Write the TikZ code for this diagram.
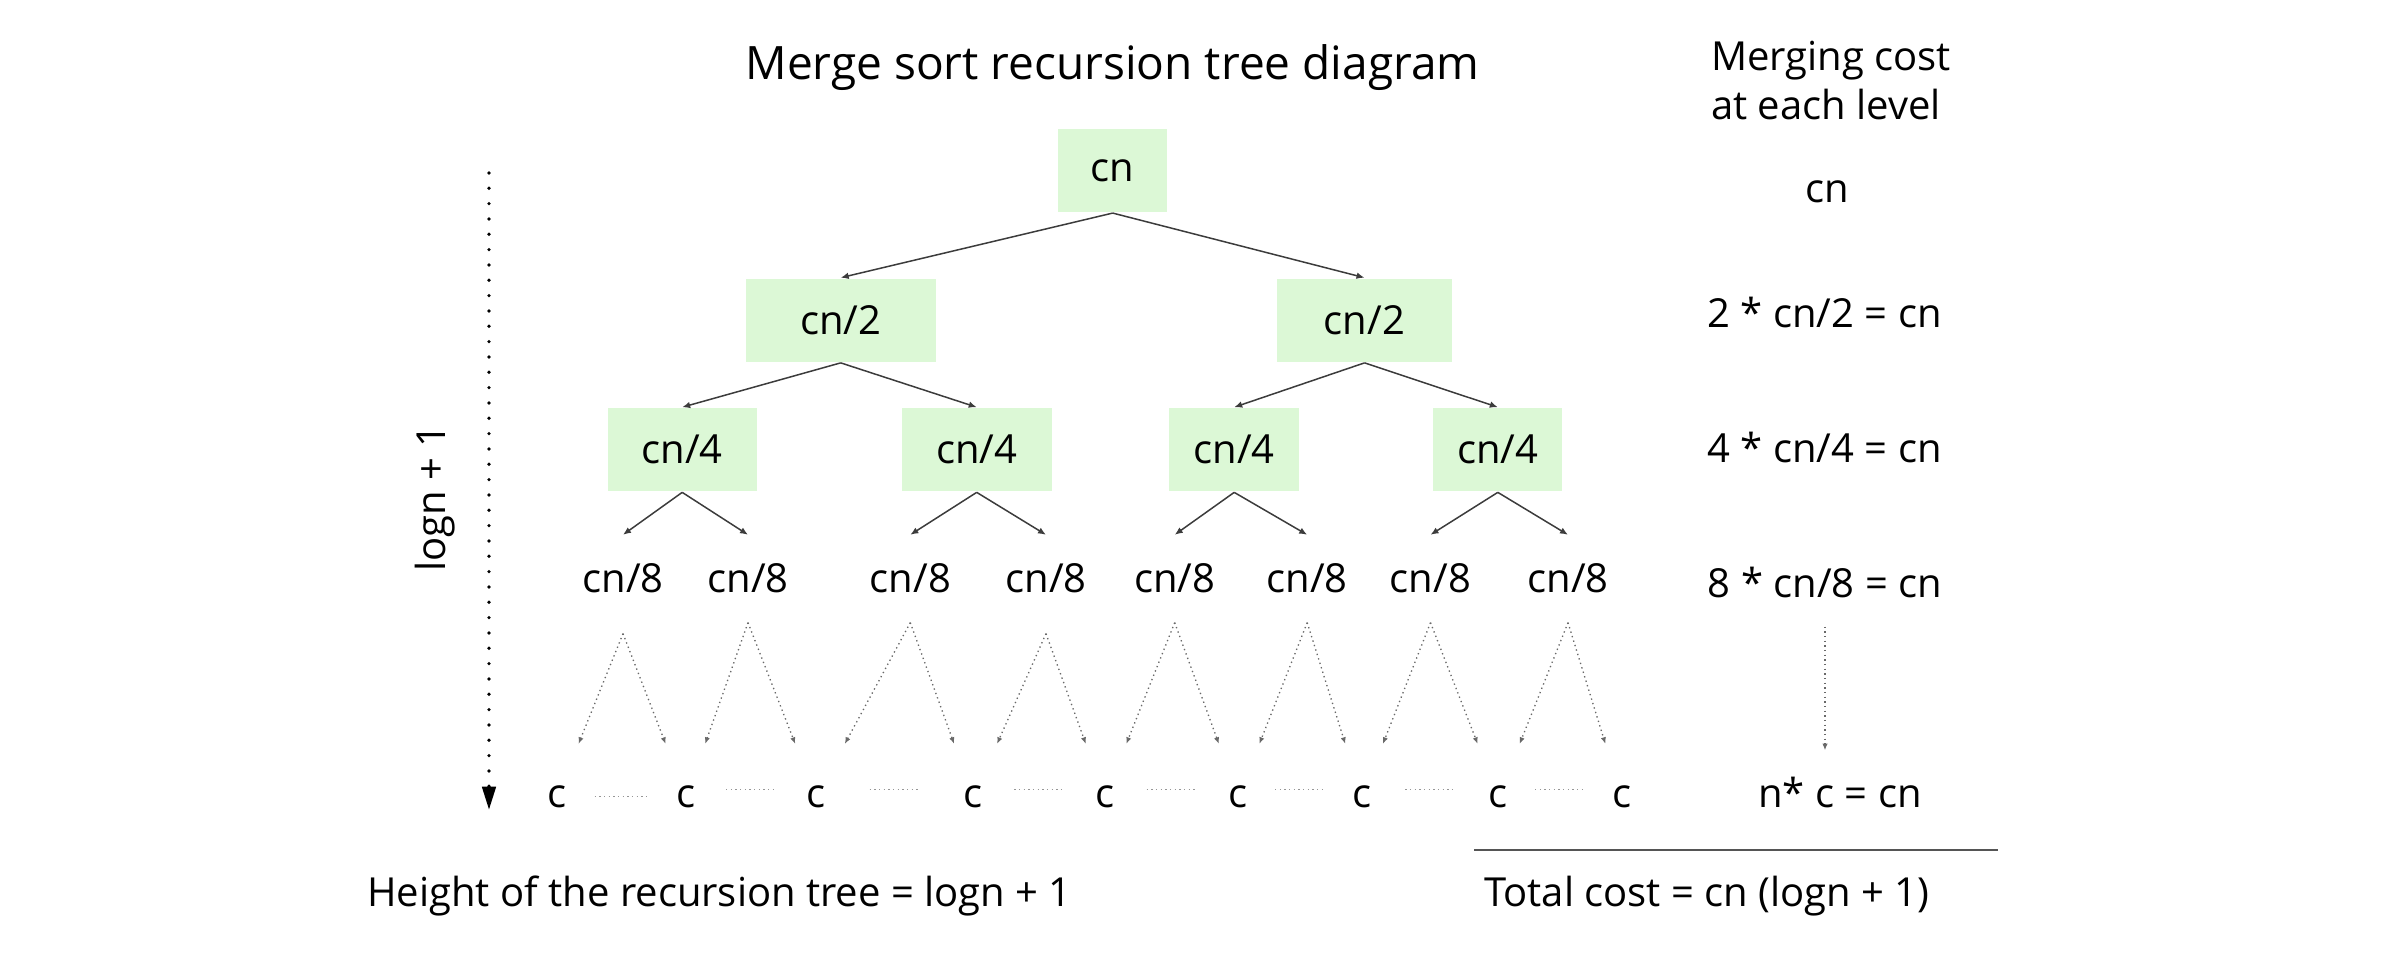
\documentclass[tikz,border=0pt]{standalone}
\usepackage{fontspec}
\setmainfont{Open Sans}
\usetikzlibrary{arrows.meta,calc}

\definecolor{boxgreen}{RGB}{220,248,214}
\definecolor{arrowgray}{RGB}{60,60,60}
\definecolor{dotgray}{RGB}{105,105,105}
\definecolor{sepgray}{RGB}{150,150,150}
\definecolor{rulegray}{RGB}{85,85,85}

\tikzset{every picture/.style={line width=0.75pt}}
\tikzset{
  lbl/.style={inner sep=0pt, anchor=base, font=\fontsize{12}{14.8}\selectfont},
  cbox/.style={fill=boxgreen, inner sep=0pt, minimum height=24.8pt, font=\fontsize{12}{14.8}\selectfont},
  leaf/.style={inner xsep=0pt, inner ysep=8.4pt, anchor=base, font=\fontsize{12}{14.8}\selectfont},
  unit/.style={inner sep=12.3pt, anchor=base, font=\fontsize{12}{14.8}\selectfont},
  tree/.style={draw=arrowgray, line width=0.45pt, -{Latex[length=2.4pt,width=2pt]}},
  dotarr/.style={draw=dotgray, line width=0.4pt, densely dotted, -{Latex[length=2pt,width=1.6pt]}},
  sepline/.style={draw=sepgray, line width=0.4pt, densely dotted},
  heightline/.style={line width=1.1pt, line cap=round, dash pattern=on 0pt off 4.6pt, -{Triangle[length=7pt,width=4pt]}}
}

\begin{document}
\begin{tikzpicture}[x=0.3pt,y=0.3pt,yscale=-1,xscale=1]
\useasboundingbox (0,0) rectangle (2400,954);

% Title
\node [lbl, font=\fontsize{13.8}{16}\selectfont] (title) at (1112.5,80) {Merge sort recursion tree diagram};

%Shape: Rectangle [root]
\node [cbox, minimum width=32.8pt] (root) at (1112.7,170.5) {cn};
%Shape: Rectangle [level 2]
\node [cbox, minimum width=57pt] (l2a) at (840.7,320.3) {cn/2};
\node [cbox, minimum width=52.3pt] (l2b) at (1364.5,320.3) {cn/2};
%Shape: Rectangle [level 4]
\node [cbox, minimum width=44.7pt] (l4a) at (682.2,449.8) {cn/4};
\node [cbox, minimum width=45pt] (l4b) at (976.7,449.8) {cn/4};
\node [cbox, minimum width=39pt] (l4c) at (1234.2,449.8) {cn/4};
\node [cbox, minimum width=38.7pt] (l4d) at (1497.8,449.8) {cn/4};

% Text Node [level 8]
\node [leaf] (e1) at (623,593) {cn/8};
\node [leaf] (e2) at (748,593) {cn/8};
\node [leaf] (e3) at (910.3,593) {cn/8};
\node [leaf] (e4) at (1046,593) {cn/8};
\node [leaf] (e5) at (1174.7,593) {cn/8};
\node [leaf] (e6) at (1307.2,593) {cn/8};
\node [leaf] (e7) at (1430.5,593) {cn/8};
\node [leaf] (e8) at (1568,593) {cn/8};

% Text Node [leaves]
\node [unit] (c1) at (557,808) {c};
\node [unit] (c2) at (686.3,808) {c};
\node [unit] (c3) at (816,808) {c};
\node [unit] (c4) at (973.4,808) {c};
\node [unit] (c5) at (1105,808) {c};
\node [unit] (c6) at (1238.3,808) {c};
\node [unit] (c7) at (1362,808) {c};
\node [unit] (c8) at (1498.4,808) {c};
\node [unit] (c9) at (1621.8,808) {c};

%Straight Lines [tree arrows]
\draw [tree] (root.south) -- (l2a.north);
\draw [tree] (root.south) -- (l2b.north);
\draw [tree] (l2a.south) -- (l4a.north);
\draw [tree] (l2a.south) -- (l4b.north);
\draw [tree] (l2b.south) -- (l4c.north);
\draw [tree] (l2b.south) -- (l4d.north);
\draw [tree] (l4a.south) -- (e1.north);
\draw [tree] (l4a.south) -- (e2.north);
\draw [tree] (l4b.south) -- (e3.north);
\draw [tree] (l4b.south) -- (e4.north);
\draw [tree] (l4c.south) -- (e5.north);
\draw [tree] (l4c.south) -- (e6.north);
\draw [tree] (l4d.south) -- (e7.north);
\draw [tree] (l4d.south) -- (e8.north);

%Dotted Lines [down to the leaves]
\draw [dotarr] ($(e1.south)+(0,11)$) -- (c1);
\draw [dotarr] ($(e1.south)+(0,11)$) -- (c2);
\draw [dotarr] (e2.south) -- (c2);
\draw [dotarr] (e2.south) -- (c3);
\draw [dotarr] (e3.south) -- (c3);
\draw [dotarr] (e3.south) -- (c4);
\draw [dotarr] ($(e4.south)+(0,11)$) -- (c4);
\draw [dotarr] ($(e4.south)+(0,11)$) -- (c5);
\draw [dotarr] (e5.south) -- (c5);
\draw [dotarr] (e5.south) -- (c6);
\draw [dotarr] (e6.south) -- (c6);
\draw [dotarr] (e6.south) -- (c7);
\draw [dotarr] (e7.south) -- (c7);
\draw [dotarr] (e7.south) -- (c8);
\draw [dotarr] (e8.south) -- (c8);
\draw [dotarr] (e8.south) -- (c9);

%Dotted Lines [between the leaves]
\draw [sepline] ($(c1.center)!0.5!(c2.center)$) +(-27,-1) -- +(27,-1);
\draw [sepline] ($(c2.center)!0.5!(c3.center)$) +(-25,-8) -- +(25,-8);
\draw [sepline] ($(c3.center)!0.5!(c4.center)$) +(-25,-8) -- +(25,-8);
\draw [sepline] ($(c4.center)!0.5!(c5.center)$) +(-25,-8) -- +(25,-8);
\draw [sepline] ($(c5.center)!0.5!(c6.center)$) +(-25,-8) -- +(25,-8);
\draw [sepline] ($(c6.center)!0.5!(c7.center)$) +(-25,-8) -- +(25,-8);
\draw [sepline] ($(c7.center)!0.5!(c8.center)$) +(-25,-8) -- +(25,-8);
\draw [sepline] ($(c8.center)!0.5!(c9.center)$) +(-25,-8) -- +(25,-8);

%Height arrow
\coordinate (htop) at (489,173);
\coordinate (hbot) at (489,810);
\draw [heightline] (htop) -- (hbot);
\node [lbl, anchor=center, rotate=90] (hgt) at (435,498) {logn + 1};

% Text Node [merging cost column]
\node [lbl, anchor=north west, align=left] (mhead) at (1710,40) {Merging cost\\at each level};
\node [lbl] (r1) at (1827.5,203) {cn};
\node [lbl] (r2) at (1824.5,328) {2 * cn/2 = cn};
\node [lbl] (r4) at (1824.5,463) {4 * cn/4 = cn};
\node [lbl] (r8) at (1825,598) {8 * cn/8 = cn};
\node [lbl] (rn) at (1840,808) {n* c = cn};
\draw [dotarr, shorten <=8.1pt, shorten >=7.8pt] (r8.south) -- (r8.south |- rn.north);

%Straight Lines [sum rule]
\draw [rulegray, line width=0.6pt] (1474,850) -- (1997.5,850);

% Text Node [bottom]
\node [lbl] (hsum) at (719.5,907) {Height of the recursion tree = logn + 1};
\node [lbl] (total) at (1707,907) {Total cost = cn (logn + 1)};

\end{tikzpicture}
\end{document}
